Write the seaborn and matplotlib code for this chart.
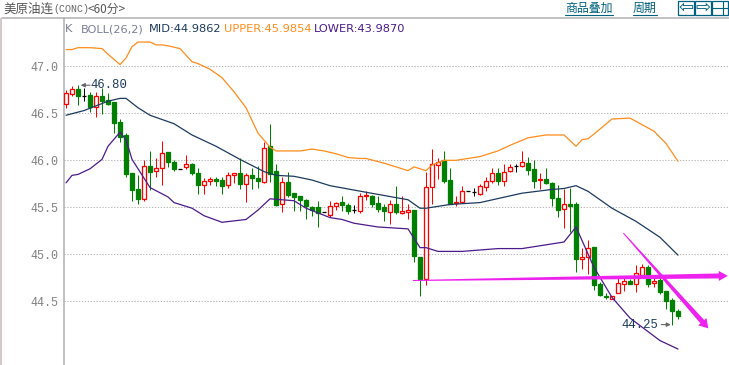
import numpy as np
import pandas as pd
import seaborn as sns
import matplotlib
matplotlib.use("Agg")
import matplotlib.pyplot as plt
from matplotlib.lines import Line2D
from matplotlib.patches import Rectangle, Polygon

open_ = [46.60,46.71,46.76,46.68,46.70,46.57,46.69,46.64,46.62,46.41,46.27,45.86,45.69,45.59,45.94,45.89,45.92,46.09,45.98,45.91,
         45.93,45.96,45.87,45.74,45.78,45.80,45.79,45.74,45.84,45.87,45.75,45.84,45.81,45.77,46.15,45.89,45.53,45.77,45.65,45.62,
         45.58,45.50,45.50,45.45,45.42,45.51,45.56,45.52,45.47,45.46,45.62,45.62,45.55,45.50,45.45,45.53,45.44,45.45,45.47,44.97,
         44.74,45.72,45.95,46.00,45.79,45.55,45.56,45.67,45.66,45.64,45.72,45.78,45.86,45.78,45.89,45.94,45.94,45.97,45.91,45.79,
         45.80,45.76,45.60,45.48,45.54,45.53,44.95,44.97,45.08,44.68,44.56,44.52,44.59,44.68,44.72,44.68,44.78,44.86,44.69,44.73,
         44.61,44.51,44.40]
close = [46.72,46.76,46.68,46.68,46.57,46.69,46.63,46.60,46.40,46.25,45.85,45.68,45.59,45.94,45.88,45.92,46.08,45.98,45.91,45.91,
         45.96,45.86,45.74,45.78,45.80,45.78,45.73,45.84,45.87,45.75,45.84,45.81,45.78,46.13,45.85,45.52,45.77,45.63,45.61,45.58,
         45.51,45.47,45.44,45.45,45.51,45.55,45.52,45.46,45.47,45.62,45.63,45.54,45.48,45.46,45.54,45.45,45.46,45.47,44.98,44.74,
         45.72,45.96,45.98,45.78,45.54,45.56,45.67,45.67,45.66,45.73,45.78,45.86,45.78,45.88,45.93,45.94,45.98,45.90,45.78,45.80,
         45.76,45.60,45.47,45.54,45.51,44.95,44.97,45.07,44.67,44.57,44.54,44.55,44.69,44.71,44.68,44.80,44.86,44.68,44.72,44.60,
         44.50,44.39,44.34]
high = [46.75,46.79,46.80,46.77,46.73,46.73,46.77,46.72,46.62,46.44,46.29,45.86,45.84,46.00,46.10,46.03,46.21,46.09,46.00,45.91,
        46.06,45.97,45.92,45.81,45.82,45.82,45.82,45.88,45.87,46.03,45.87,45.92,45.94,46.20,46.39,45.96,45.82,45.88,45.65,45.62,
        45.59,45.51,45.57,45.45,45.57,45.56,45.62,45.55,45.52,45.65,45.67,45.63,45.62,45.53,45.58,45.73,45.62,45.54,45.47,44.97,
        45.88,46.12,46.03,46.10,45.92,45.62,45.73,45.67,45.70,45.75,45.82,45.92,45.92,45.96,45.96,45.96,46.10,46.04,46.00,45.86,
        45.92,45.77,45.74,45.69,45.70,45.56,45.07,45.15,45.08,44.70,44.59,44.55,44.75,44.75,44.74,44.89,44.90,44.88,44.78,44.78,
        44.61,44.53,44.42]
low = [46.56,46.69,46.59,46.63,46.51,46.46,46.49,46.59,46.29,46.19,45.82,45.57,45.54,45.57,45.68,45.82,45.74,45.93,45.89,45.91,
       45.91,45.84,45.64,45.64,45.74,45.73,45.64,45.70,45.76,45.69,45.56,45.69,45.71,45.76,45.77,45.51,45.45,45.61,45.46,45.46,
       45.37,45.41,45.29,45.45,45.40,45.47,45.46,45.43,45.44,45.44,45.58,45.50,45.45,45.35,45.32,45.43,45.43,45.37,44.92,44.55,
       44.67,45.54,45.80,45.76,45.54,45.51,45.55,45.67,45.62,45.63,45.67,45.76,45.74,45.73,45.88,45.88,45.93,45.84,45.71,45.69,
       45.75,45.51,45.40,45.28,45.24,44.81,44.84,44.79,44.62,44.56,44.52,44.52,44.59,44.61,44.68,44.60,44.76,44.65,44.65,44.58,
       44.42,44.25,44.31]

upper_idx = [0,1,2,4,6,7,9,10,11,12,14,15,16,17,19,21,22,24,26,28,30,32,34,35,36,37,39,41,43,45,47,49,50,53,57,58,60,61,63,65,69,72,74,77,80,83,85,86,87,88,91,94,98,100,102]
upper_val = [47.18,47.18,47.20,47.20,47.19,47.13,47.02,47.09,47.21,47.26,47.26,47.23,47.23,47.22,47.19,47.05,47.03,46.97,46.88,46.73,46.56,46.29,46.14,46.10,46.10,46.10,46.10,46.12,46.10,46.07,46.03,46.02,46.02,45.97,45.89,45.93,45.89,45.95,46.00,46.00,46.04,46.10,46.16,46.24,46.27,46.27,46.15,46.22,46.23,46.28,46.44,46.45,46.31,46.18,45.99]
mid_idx = [0,3,7,9,10,12,14,18,21,25,29,33,35,38,41,44,50,57,59,60,64,69,76,81,83,85,87,91,95,99,102]
mid_val = [46.48,46.53,46.63,46.66,46.66,46.56,46.48,46.39,46.27,46.15,46.01,45.88,45.84,45.83,45.79,45.73,45.66,45.58,45.49,45.49,45.53,45.55,45.65,45.69,45.70,45.73,45.67,45.49,45.35,45.18,44.99]
lower_idx = [0,1,2,4,6,7,9,10,11,13,14,17,18,21,23,26,30,32,34,38,40,44,46,48,50,52,57,59,60,62,66,72,76,83,85,88,91,94,99,102]
lower_val = [45.76,45.84,45.85,45.91,46.01,46.15,46.30,46.22,46.01,45.81,45.71,45.61,45.55,45.49,45.41,45.34,45.37,45.47,45.59,45.57,45.49,45.39,45.37,45.33,45.31,45.29,45.27,45.07,45.07,45.03,45.03,45.06,45.06,45.13,45.29,44.86,44.54,44.32,44.08,43.99]

y_ticks = [47.0, 46.5, 46.0, 45.5, 45.0, 44.5]
title_cn = "美原油连"
title_code = "(CONC)"
title_period = "<60分>"
hdr_texts = ["K", "BOLL(26,2)", "MID:44.9862", "UPPER:45.9854", "LOWER:43.9870"]
btn_texts = ["商品叠加", "周期"]
trend_a = (57.8, 44.72, 110.3, 44.77)
trend_b = (92.9, 45.225, 107.05, 44.21)

CJK = ["Noto Sans CJK SC", "DejaVu Sans"]
MONO = "Liberation Mono"
W, H = 729, 365
RED, GREEN, BLACK = "#ff0000", "#008000", "#000000"
NAVY, ORANGE, PURPLE = "#1c3a5e", "#ff8c1a", "#4b1a8c"
TEAL = "#00607f"

sns.set_theme(style="white")
plt.rcParams["font.family"] = CJK
fig = plt.figure(figsize=(W / 100, H / 100), dpi=100, facecolor="white")
ax = fig.add_axes([63.5 / W, 0, (W - 63.5) / W, (H - 18) / H])

n = len(open_)
x = np.arange(n)
o, c, h, l = map(np.array, (open_, close, high, low))
cols = [RED if cc > oo else GREEN if cc < oo else BLACK for oo, cc in zip(o, c)]

lw = 0.72
ax.vlines(x, l, h, colors=cols, lw=lw, zorder=3)
face = ["white" if cc == RED else cc for cc in cols]
ax.bar(x, c - o, bottom=o, width=0.72, color=face, edgecolor=cols,
       linewidth=lw * 1.3, zorder=4, align="center")

for ix, val, col in ((upper_idx, upper_val, ORANGE), (mid_idx, mid_val, NAVY), (lower_idx, lower_val, PURPLE)):
    df = pd.DataFrame({"i": ix, "v": val})
    sns.lineplot(data=df, x="i", y="v", ax=ax, color=col, lw=0.9, estimator=None, sort=False, zorder=5)

ax.set_xlim(-0.42, 110.5)
ax.set_ylim(43.82, 47.516)
ax.set_xlabel("")
ax.set_ylabel("")
ax.set_xticks([])
ax.set_yticks(y_ticks)
ax.set_yticklabels([f"{v:.1f}" for v in y_ticks], family=MONO, fontsize=8.4, color="#808080")
ax.tick_params(axis="y", length=0, pad=4)
ax.grid(False)
for v in y_ticks:
    ax.axhline(v, color="#b4b4b4", lw=0.75, ls=(0, (1.2, 1.6)), zorder=1)
for s in ("right", "bottom", "top"):
    ax.spines[s].set_visible(False)
ax.spines["left"].set_color("#b0b0b0")
ax.spines["left"].set_linewidth(1.1)


def px(xp, yp):
    return xp / W, 1 - yp / H


def ftext(xp, yp, s, **kw):
    kw.setdefault("va", "center")
    return fig.text(*px(xp, yp), s, **kw)


fig.add_artist(Line2D([2 / W, 1], [1 - 18.3 / H] * 2, color="#b0b0b0", lw=1.1))
fig.add_artist(Rectangle(px(0, H), 1.6 / W, (H - 18) / H, facecolor="#d3cbc9", edgecolor="none"))

ftext(3, 9.5, title_cn, fontsize=9, color="#555555", family=CJK)
ftext(53, 9.5, title_code, fontsize=7.2, color="#666666", family=MONO)
ftext(88, 9.5, title_period, fontsize=8.5, color="#555555", family=CJK)

hdr = [(65, hdr_texts[0], "#7a7f99"), (81, hdr_texts[1], "#7a7f99"), (149, hdr_texts[2], NAVY),
       (224, hdr_texts[3], ORANGE), (314, hdr_texts[4], PURPLE)]
for xp, s, col in hdr:
    ftext(xp, 29, s, fontsize=8.2, color=col, family="DejaVu Sans")

for (x0, x1), s in zip(((565, 613), (633, 657)), btn_texts):
    ftext(x0, 8.5, s, fontsize=8.6, color=TEAL, family=CJK)
    fig.add_artist(Line2D([x0 / W, x1 / W], [1 - 14.6 / H] * 2, color=TEAL, lw=0.8))
for x0, x1 in ((678, 694), (695, 711), (712, 728)):
    fig.add_artist(Rectangle(px(x0, 15), (x1 - x0) / W, 14 / H, facecolor="white", edgecolor=TEAL, lw=0.9))
ftext(686, 7.5, "⇦", fontsize=13, color=TEAL, family="DejaVu Sans", ha="center")
ftext(703, 7.5, "⇨", fontsize=13, color=TEAL, family="DejaVu Sans", ha="center")
fig.add_artist(Line2D([712 / W, 728 / W], [1 - 8 / H] * 2, color=TEAL, lw=0.8))
fig.add_artist(Line2D([723 / W, 723 / W], [1 - 15 / H, 1 - 1 / H], color=TEAL, lw=0.8))

i_hi = int(np.argmax(h))
i_lo = int(np.argmin(l))
ax.annotate(f"{h[i_hi]:.2f}", xy=(4.1, h[i_hi]), xycoords="data",
            family=MONO, fontsize=8.8, color=NAVY, va="center", ha="left", zorder=7)
ax.annotate("", xy=(i_hi + 0.45, h[i_hi]), xytext=(4.0, h[i_hi]),
            arrowprops=dict(arrowstyle="-|>,head_length=0.2,head_width=0.1", color="#666666", lw=0.8, shrinkA=0, shrinkB=0), zorder=7)
ax.annotate(f"{l[i_lo]:.2f}", xy=(98.7, l[i_lo]), xycoords="data",
            family=MONO, fontsize=8.8, color=NAVY, va="center", ha="right", zorder=7)
ax.annotate("", xy=(i_lo - 0.2, l[i_lo]), xytext=(99.2, l[i_lo]),
            arrowprops=dict(arrowstyle="-|>,head_length=0.2,head_width=0.1", color="#666666", lw=0.8, shrinkA=0, shrinkB=0), zorder=7)


def wedge(seg, w0, w1, hl, hw, col="#ee22ee"):
    fig.canvas.draw()
    a = ax.transData.transform(seg[:2])
    b = ax.transData.transform(seg[2:])
    d = (b - a) / np.hypot(*(b - a))
    nrm = np.array([-d[1], d[0]])
    base = b - d * hl
    pts = [a + nrm * w0 / 2, base + nrm * w1 / 2, base + nrm * hw / 2, b,
           base - nrm * hw / 2, base - nrm * w1 / 2, a - nrm * w0 / 2]
    ax.add_patch(Polygon(pts, closed=True, transform=None, facecolor=col, edgecolor="none", zorder=8, clip_on=False))


wedge(trend_a, 1.0, 5.0, 9, 10)
wedge(trend_b, 1.0, 5.0, 9, 11)

fig.savefig("out.png", dpi=100, facecolor="white")
